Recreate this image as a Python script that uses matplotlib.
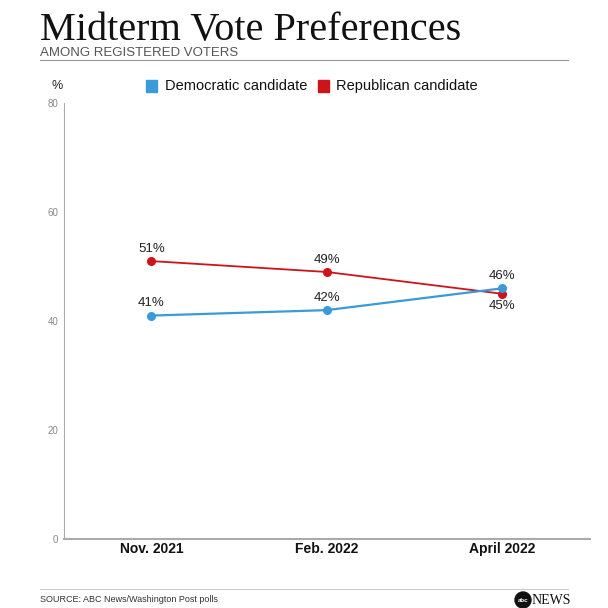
import matplotlib.pyplot as plt
from matplotlib.patches import Rectangle, Circle
from matplotlib.lines import Line2D

plt.rcParams['font.family'] = ['Liberation Sans', 'DejaVu Sans']

months = ['Nov. 2021', 'Feb. 2022', 'April 2022']
dem = [41, 42, 46]
rep = [51, 49, 45]
dem_labels = ['41%', '42%', '46%']
rep_labels = ['51%', '49%', '45%']

blue = '#3a9bd8'
red = '#cc1419'

fig = plt.figure(figsize=(6.08, 6.08), dpi=100)
ax = fig.add_axes([0.105, 0.1135, 0.865, 0.717])

x = range(len(months))
ax.plot(x, rep, color=red, lw=1.3, marker='o', ms=5.5, zorder=3)
ax.plot(x, dem, color=blue, lw=1.6, marker='o', ms=5.5, zorder=3)

# value labels: above by default, the last red one goes underneath
for i in x:
    ax.annotate(dem_labels[i], (i, dem[i]), xytext=(0, 4.5), textcoords='offset points',
                ha='center', va='bottom', fontsize=9.5, color='#222222')
    off, va = (4.5, 'bottom') if i < 2 else (-4.5, 'top')
    ax.annotate(rep_labels[i], (i, rep[i]), xytext=(0, off), textcoords='offset points',
                ha='center', va=va, fontsize=9.5, color='#222222')

ax.set_xlim(-0.5, 2.5)
ax.set_ylim(0, 80)
ax.set_yticks([0, 20, 40, 60, 80])
ax.set_xticks(list(x))
ax.set_xticklabels(months, fontsize=10, fontweight='bold', color='#111111')
ax.tick_params(axis='y', length=0, labelsize=7, labelcolor='#888888', pad=4)
ax.tick_params(axis='x', length=0, pad=2.5)
for s in ['top', 'right']:
    ax.spines[s].set_visible(False)
ax.spines['left'].set_color('#aaaaaa')
ax.spines['bottom'].set_color('#aaaaaa')
ax.spines['bottom'].set_linewidth(1.5)

# header
fig.text(40 / 608, 1 - 40 / 608, 'Midterm Vote Preferences', family='Liberation Serif',
         fontsize=29, color='#111111', ha='left', va='baseline')
fig.text(40 / 608, 1 - 56.5 / 608, 'AMONG REGISTERED VOTERS', fontsize=9.5,
         color='#555555', ha='left', va='baseline')
fig.add_artist(Line2D([40 / 608, 568 / 608], [1 - 60 / 608] * 2, color='#999999', lw=0.8))

# legend
fig.text(57 / 608, 1 - 86 / 608, '%', fontsize=9, color='#222222', ha='center', va='center')
fig.add_artist(Rectangle((146 / 608, 1 - 92 / 608), 11 / 608, 12 / 608, color=blue))
fig.text(165 / 608, 1 - 86 / 608, 'Democratic candidate', fontsize=10.5, color='#111111', va='center')
fig.add_artist(Rectangle((318 / 608, 1 - 92 / 608), 11 / 608, 12 / 608, color=red))
fig.text(336 / 608, 1 - 86 / 608, 'Republican candidate', fontsize=10.5, color='#111111', va='center')

# footer
fig.add_artist(Line2D([40 / 608, 568 / 608], [1 - 589 / 608] * 2, color='#cccccc', lw=0.8))
fig.text(40 / 608, 1 - 600 / 608, 'SOURCE: ABC News/Washington Post polls', fontsize=6.5,
         color='#333333', va='center')
fig.add_artist(Circle((523 / 608, 1 - 600 / 608), 8 / 608, color='#111111'))
fig.text(523 / 608, 1 - 600 / 608, 'abc', fontsize=4.5, color='white', ha='center', va='center',
         fontweight='bold')
fig.text(532 / 608, 1 - 600 / 608, 'NEWS', fontsize=10, family='Liberation Serif',
         color='#111111', va='center')

fig.savefig('out.png', dpi=100)
